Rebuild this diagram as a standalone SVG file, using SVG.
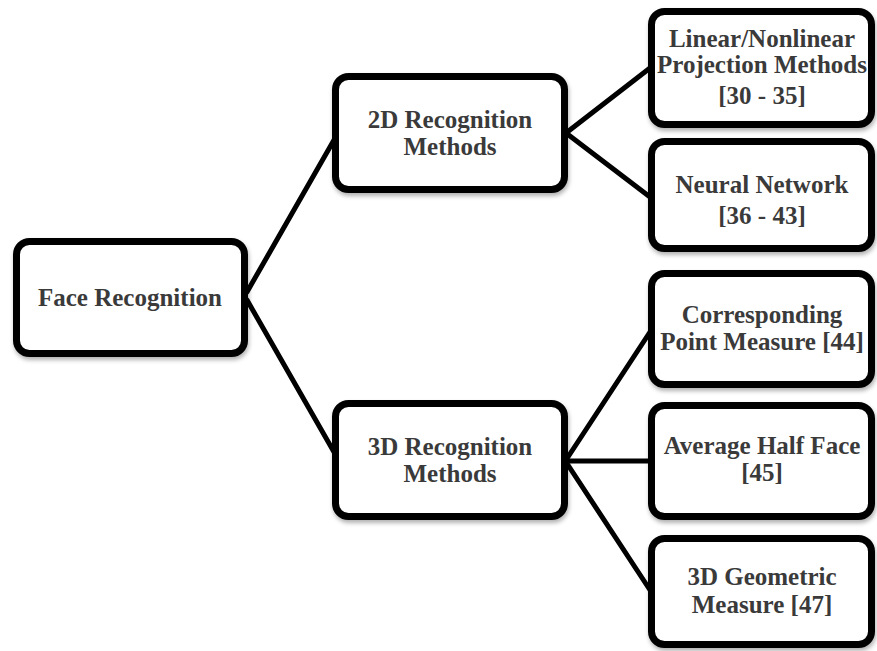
<svg xmlns="http://www.w3.org/2000/svg" width="877" height="651" viewBox="0 0 877 651">
  <defs>
    <filter id="shadow" x="-10%" y="-10%" width="120%" height="130%">
      <feDropShadow dx="1" dy="3" stdDeviation="2" flood-color="#000" flood-opacity="0.3"/>
    </filter>
  </defs>
  <style>
    .box { fill: #ffffff; stroke: #000000; stroke-width: 7; filter: url(#shadow); }
    .edge { stroke: #000000; stroke-width: 5; stroke-linecap: round; fill: none; }
    .label { font-family: "Liberation Serif", "DejaVu Serif", serif; font-weight: bold; font-size: 25px; fill: #3a3a3a; text-anchor: middle; }
  </style>
  <rect width="877" height="651" fill="#ffffff"/>

  <!-- connectors -->
  <g id="connectors">
    <line class="edge" x1="247" y1="292" x2="334" y2="140"/>
    <line class="edge" x1="247" y1="300" x2="334" y2="452"/>
    <line class="edge" x1="566" y1="133" x2="650" y2="68"/>
    <line class="edge" x1="566" y1="133" x2="650" y2="197"/>
    <line class="edge" x1="566" y1="460" x2="650" y2="332"/>
    <line class="edge" x1="566" y1="461" x2="650" y2="461"/>
    <line class="edge" x1="566" y1="462" x2="650" y2="590"/>
  </g>

  <g id="face-recognition">
    <rect class="box" x="16.5" y="241.5" width="228" height="112" rx="13"/>
    <text class="label" x="130" y="306">Face Recognition</text>
  </g>

  <g id="recognition-2d">
    <rect class="box" x="335.5" y="76.5" width="229" height="113" rx="13"/>
    <text class="label" x="450" y="128">2D Recognition</text>
    <text class="label" x="450" y="155">Methods</text>
  </g>

  <g id="recognition-3d">
    <rect class="box" x="335.5" y="403.5" width="229" height="113" rx="13"/>
    <text class="label" x="450" y="455">3D Recognition</text>
    <text class="label" x="450" y="482">Methods</text>
  </g>

  <g id="projection-methods">
    <rect class="box" x="651.5" y="11.5" width="220" height="113" rx="13"/>
    <text class="label" x="762" y="47">Linear/Nonlinear</text>
    <text class="label" x="762" y="73">Projection Methods</text>
    <text class="label" x="762" y="104">[30 - 35]</text>
  </g>

  <g id="neural-network">
    <rect class="box" x="651.5" y="141.5" width="220" height="107" rx="13"/>
    <text class="label" x="762" y="193">Neural Network</text>
    <text class="label" x="762" y="224">[36 - 43]</text>
  </g>

  <g id="corresponding-point">
    <rect class="box" x="651.5" y="273.5" width="220" height="111" rx="13"/>
    <text class="label" x="762" y="323">Corresponding</text>
    <text class="label" x="762" y="350">Point Measure [44]</text>
  </g>

  <g id="average-half-face">
    <rect class="box" x="651.5" y="405.5" width="220" height="111" rx="13"/>
    <text class="label" x="762" y="454">Average Half Face</text>
    <text class="label" x="762" y="481">[45]</text>
  </g>

  <g id="geometric-measure">
    <rect class="box" x="651.5" y="538.5" width="220" height="106" rx="13"/>
    <text class="label" x="762" y="585">3D Geometric</text>
    <text class="label" x="762" y="613">Measure [47]</text>
  </g>
</svg>
